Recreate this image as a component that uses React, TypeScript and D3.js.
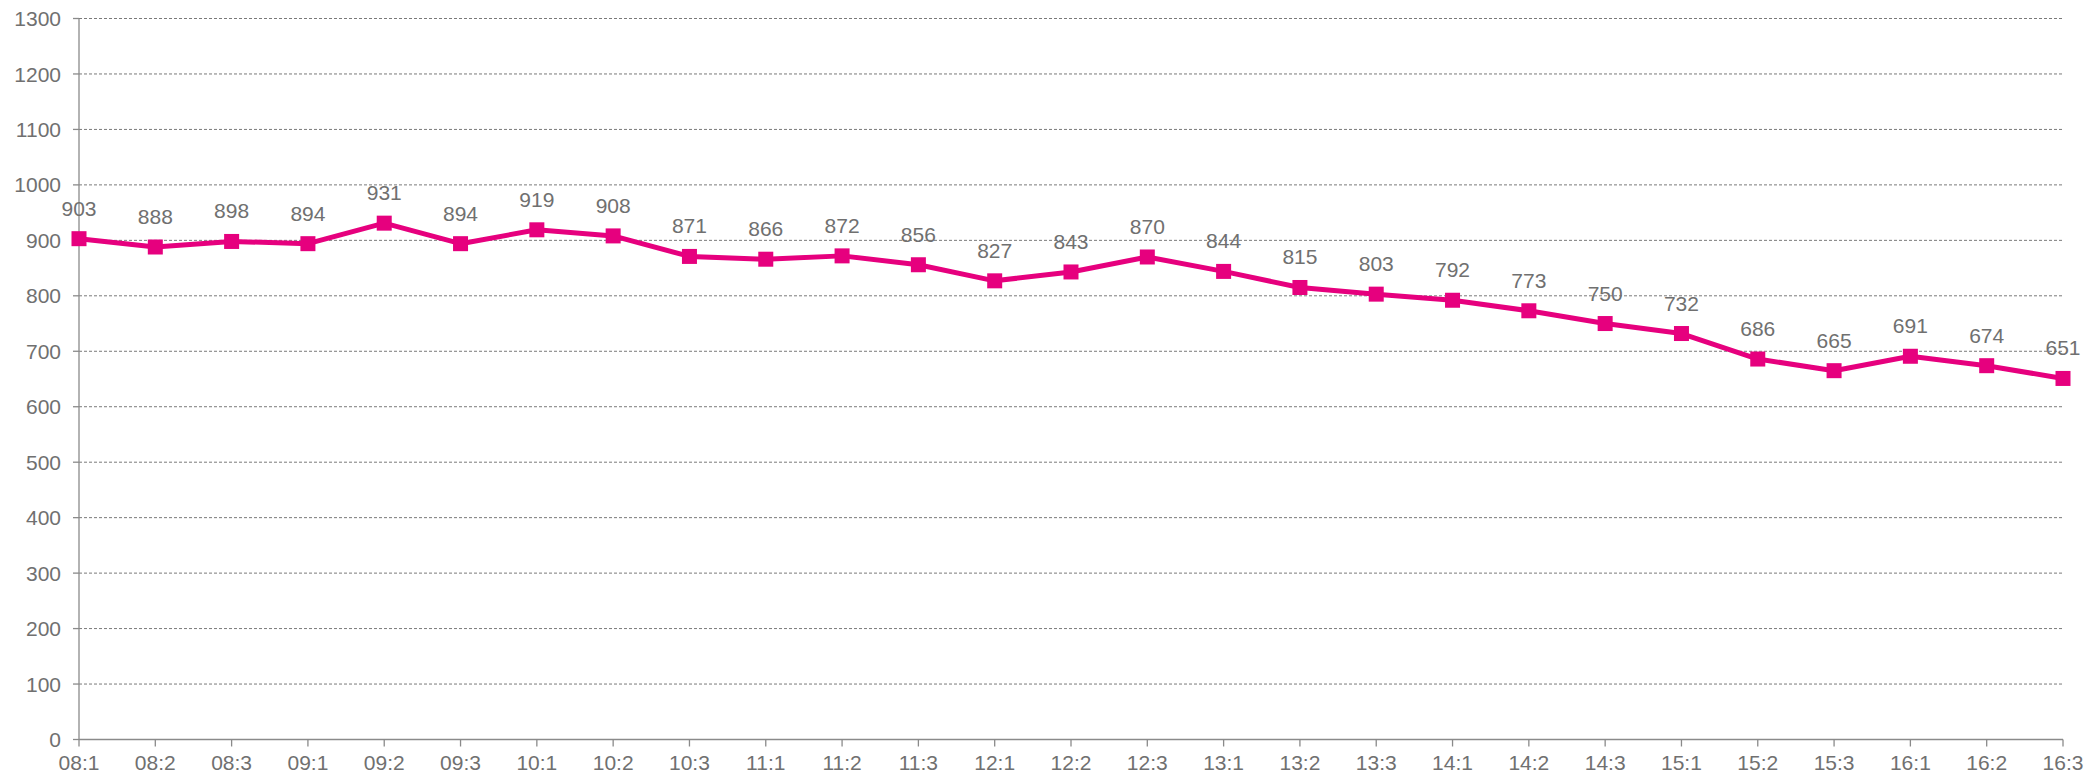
import React from "react";
import * as d3 from "d3";

const categories = ["08:1","08:2","08:3","09:1","09:2","09:3","10:1","10:2","10:3","11:1","11:2","11:3","12:1","12:2","12:3","13:1","13:2","13:3","14:1","14:2","14:3","15:1","15:2","15:3","16:1","16:2","16:3"];
const values = [903,888,898,894,931,894,919,908,871,866,872,856,827,843,870,844,815,803,792,773,750,732,686,665,691,674,651];
const yTicks = [0,100,200,300,400,500,600,700,800,900,1000,1100,1200,1300];

const W = 2090, H = 775;
const left = 79, right = 2063, top = 18.5, bottom = 739.5;
const color = "#E6007E";
const textColor = "#707070";
const font = "'Liberation Sans', Arial, sans-serif";

export default function App() {
  const x = d3.scalePoint<string>().domain(categories).range([left, right]);
  const y = d3.scaleLinear().domain([0, 1300]).range([bottom, top]);
  const line = d3.line<number>().x((_, i) => x(categories[i])!).y(d => y(d));
  return (
    <div style={{ position: "fixed", left: 0, top: 0, width: W, height: H, background: "#fff" }}>
      <svg width={W} height={H} style={{ display: "block" }} fontFamily={font}>
        {yTicks.map(t => (
          <g key={t}>
            {t > 0 && (
              <line x1={left} x2={right} y1={y(t)} y2={y(t)} stroke="#7a7a7a" strokeWidth={1} strokeDasharray="3,2" />
            )}
            <line x1={left - 6} x2={left} y1={y(t)} y2={y(t)} stroke="#8a8a8a" strokeWidth={1.3} />
            <text x={61} y={y(t)} dy="0.36em" textAnchor="end" fontSize={21} fill={textColor}>{t}</text>
          </g>
        ))}
        <line x1={left} x2={left} y1={top} y2={bottom} stroke="#8a8a8a" strokeWidth={1.3} />
        <line x1={left} x2={right} y1={bottom} y2={bottom} stroke="#8a8a8a" strokeWidth={1.3} />
        {categories.map(c => (
          <g key={c}>
            <line x1={x(c)!} x2={x(c)!} y1={bottom} y2={bottom + 7} stroke="#8a8a8a" strokeWidth={1.3} />
            <text x={x(c)!} y={770} textAnchor="middle" fontSize={21} fill={textColor}>{c}</text>
          </g>
        ))}
        <path d={line(values) || ""} fill="none" stroke={color} strokeWidth={5} strokeLinejoin="round" />
        {values.map((v, i) => (
          <g key={i}>
            <rect x={x(categories[i])! - 7.5} y={y(v) - 7.5} width={15} height={15} fill={color} />
            <text x={x(categories[i])!} y={y(v) - 23} textAnchor="middle" fontSize={21} fill={textColor}>{v}</text>
          </g>
        ))}
      </svg>
    </div>
  );
}
